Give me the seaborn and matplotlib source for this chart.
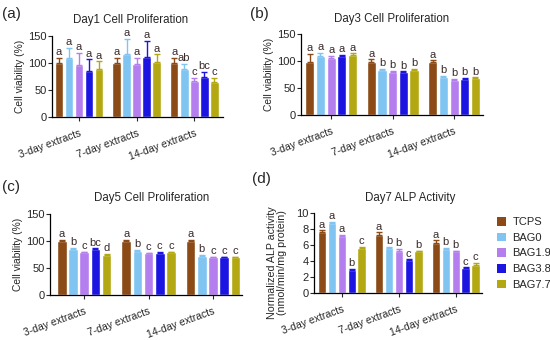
import numpy as np
import pandas as pd
import seaborn as sns
import matplotlib.pyplot as plt
from matplotlib.patches import Patch

groups = ["3-day extracts", "7-day extracts", "14-day extracts"]
samples = ["TCPS", "BAG0", "BAG1.9", "BAG3.8", "BAG7.7"]
colors = ["#8B4A16", "#80C4F2", "#B57EEE", "#1C14E0", "#B3A812"]

# Day1 cell viability (%), rows = groups, cols = samples
d1_mean = [[100, 110, 97, 85, 88], [100, 117, 98, 111, 101], [100, 88, 67, 74, 65]]
d1_err = [[10, 18, 22, 22, 15], [10, 28, 11, 30, 15], [10, 10, 5, 10, 8]]
d1_lab = [["a", "a", "a", "a", "a"], ["a", "a", "a", "a", "a"], ["a", "ab", "c", "bc", "c"]]

# Day3
d3_mean = [[99, 109, 106, 109, 112], [99, 83, 79, 79, 84], [99, 70, 65, 67, 68]]
d3_err = [[14, 6, 3, 3, 2], [4, 3, 3, 2, 2], [2, 2, 2, 2, 2]]
d3_lab = [["a"] * 5, ["a", "b", "b", "b", "b"], ["a", "b", "b", "b", "b"]]

# Day5
d5_mean = [[100, 86, 79, 85, 75], [100, 82, 77, 78, 79], [100, 73, 70, 70, 70]]
d5_err = [[1.5, 1.5, 1.5, 1.5, 1.5], [1.5, 1.5, 1.5, 1.5, 1.5], [1.5, 1, 1, 1, 1]]
d5_lab = [["a", "b", "c", "bc", "d"], ["a", "b", "c", "c", "c"], ["a", "b", "c", "c", "c"]]

# Day7 ALP activity (nmol/min/mg protein)
d7_mean = [[7.6, 8.8, 7.1, 2.9, 5.6], [7.3, 5.6, 5.3, 4.1, 5.2], [6.3, 5.5, 5.2, 3.1, 3.5]]
d7_err = [[0.25, 0.1, 0.2, 0.1, 0.2], [0.3, 0.15, 0.2, 0.1, 0.1], [0.3, 0.15, 0.1, 0.1, 0.3]]
d7_lab = [["a", "a", "a", "b", "c"], ["a", "b", "b", "c", "b"], ["a", "b", "b", "c", "c"]]

sns.set_style("ticks")
plt.rcParams["font.family"] = ["Liberation Sans", "DejaVu Sans"]

W, H = 550, 340
fig = plt.figure(figsize=(W / 100, H / 100), dpi=100)


def add_ax(left, right, y0, ytop):
    return fig.add_axes([left / W, (H - y0) / H, (right - left) / W, (y0 - ytop) / H])


def panel(ax, mean, err, lab, title, tx, ylabel, ysize, ylim, yticks, xlim):
    rows = []
    for gi, g in enumerate(groups):
        for si, s in enumerate(samples):
            rows.append({"group": g, "sample": s, "value": mean[gi][si]})
    df = pd.DataFrame(rows)
    sns.barplot(data=df, x="group", y="value", hue="sample", order=groups,
                hue_order=samples, palette=colors, errorbar=None, width=0.87,
                gap=0.14, saturation=1, ax=ax, legend=False)
    bars = list(ax.containers)  # copy: errorbar() adds more containers
    for si, cont in enumerate(bars):
        for gi, bar in enumerate(cont.patches):
            xc = bar.get_x() + bar.get_width() / 2
            top = mean[gi][si]
            e = err[gi][si]
            ax.errorbar(xc, top, yerr=[[0], [e]], fmt="none", ecolor=colors[si],
                        elinewidth=1, capsize=2, capthick=1, clip_on=False)
            ax.annotate(lab[gi][si], (xc, top + e), xytext=(0, 0.5),
                        textcoords="offset points", ha="center", va="bottom",
                        fontsize=8, color="#3a2a2a", annotation_clip=False)
    ax.set_ylim(*ylim)
    ax.set_yticks(yticks)
    ax.set_xlim(*xlim)
    ax.set_xlabel("")
    ax.set_ylabel(ylabel, fontsize=ysize, labelpad=2, linespacing=1.0)
    ax.set_title(title, fontsize=8.3, pad=9, x=tx)
    ax.set_xticks(range(3))
    ax.set_xticklabels(groups, rotation=20, ha="right", rotation_mode="anchor", fontsize=7.5)
    ax.tick_params(axis="y", labelsize=8, length=3, width=0.8, pad=1)
    ax.tick_params(axis="x", length=3, width=0.8, pad=5)
    sns.despine(ax=ax)
    for sp in ["left", "bottom"]:
        ax.spines[sp].set_linewidth(0.9)
        ax.spines[sp].set_color("black")


ax_a = add_ax(52, 223, 117, 36)
panel(ax_a, d1_mean, d1_err, d1_lab, "Day1 Cell Proliferation", 0.46,
      "Cell viability (%)", 7.4, (0, 150), [0, 50, 100, 150], (-0.47, 2.5))
ax_b = add_ax(301, 483, 115, 34)
panel(ax_b, d3_mean, d3_err, d3_lab, "Day3 Cell Proliferation", 0.5,
      "Cell viability (%)", 7.4, (0, 150), [0, 50, 100, 150], (-0.49, 2.47))
ax_c = add_ax(50, 242, 295, 214)
panel(ax_c, d5_mean, d5_err, d5_lab, "Day5 Cell Proliferation", 0.53,
      "Cell viability (%)", 7.4, (0, 150), [0, 50, 100, 150], (-0.53, 2.45))
ax_d = add_ax(314, 482, 293, 213)
panel(ax_d, d7_mean, d7_err, d7_lab, "Day7 ALP Activity", 0.57,
      "Normalized ALP activity\n(nmol/min/mg protein)", 7.7,
      (0, 10), [0, 2, 4, 6, 8, 10], (-0.49, 2.46))
ax_d.yaxis.set_label_coords(-0.16, 0.38)

for txt, x, y in [("(a)", 2, 14), ("(b)", 250, 14), ("(c)", 2, 187), ("(d)", 252, 179)]:
    fig.text(x / W, 1 - y / H, txt, fontsize=11, va="center", ha="left")

handles = [Patch(facecolor=c, edgecolor="none") for c in colors]
fig.legend(handles, samples, loc="upper left", bbox_to_anchor=(497 / W, 1 - 217 / H),
           frameon=False, fontsize=8, handlelength=0.8, handleheight=0.8,
           handletextpad=0.6, labelspacing=0.5, borderaxespad=0, borderpad=0)

fig.savefig("out.png", dpi=100)
